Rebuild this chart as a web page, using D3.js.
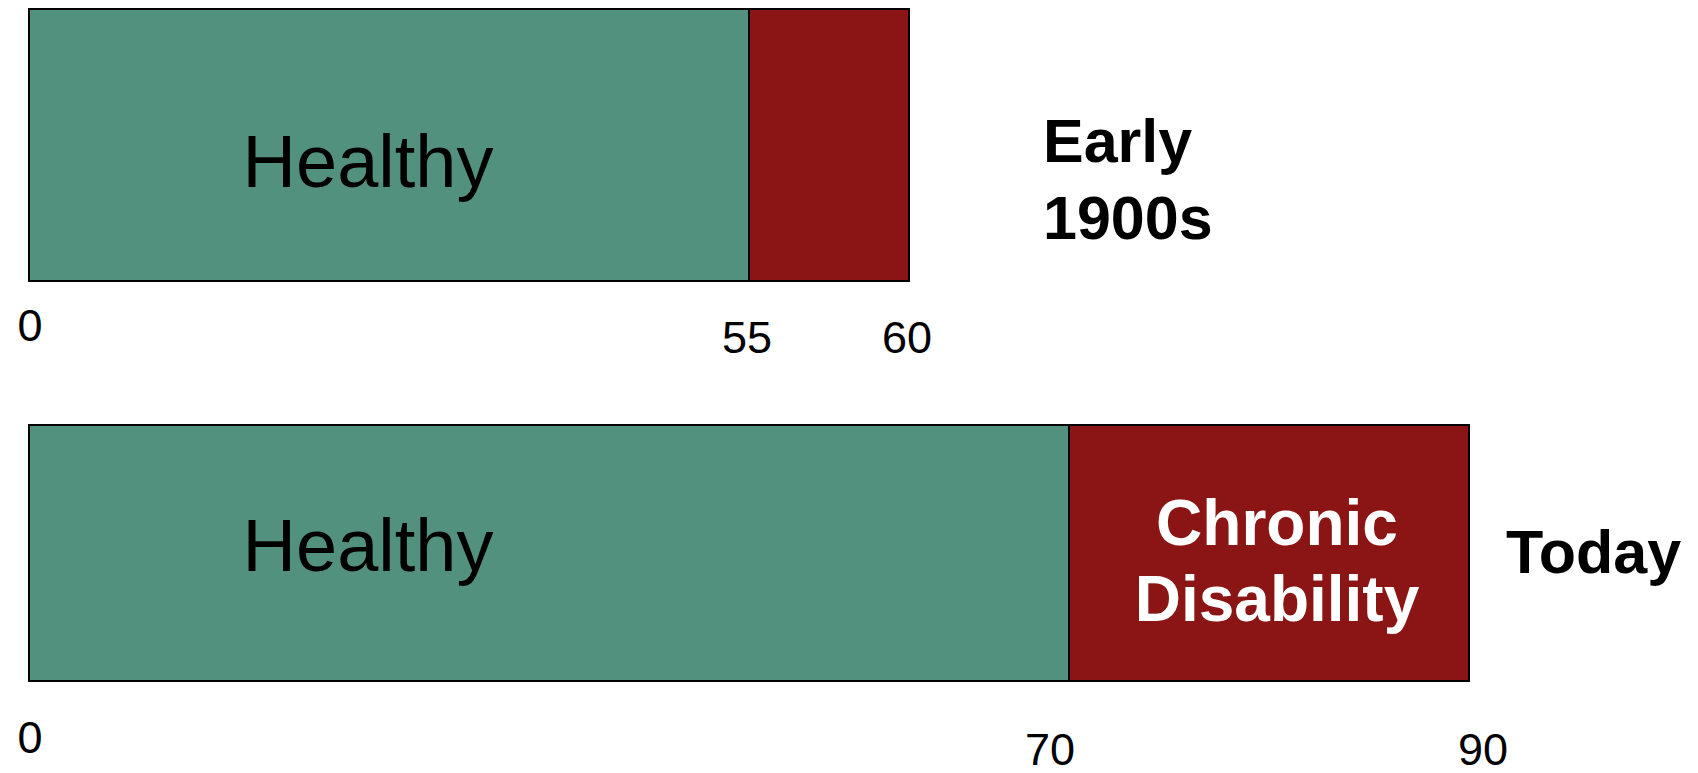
<!DOCTYPE html>
<html>
<head>
<meta charset="utf-8">
<title>Healthy years vs. chronic disability</title>
<script src="https://cdn.jsdelivr.net/npm/d3@7/dist/d3.min.js"></script>
<style>
  html, body { margin: 0; padding: 0; background: #ffffff; }
  svg { display: block; }
  text { font-family: "Liberation Sans", Arial, Helvetica, sans-serif; }
</style>
</head>
<body>
<svg id="chart" width="1698" height="773"></svg>
<script>
// ---- data ----------------------------------------------------------
const rowNames      = ["Early 1900s", "Today"];
const healthyYears  = [55, 70];          // end of the healthy span (years)
const lifeYears     = [60, 90];          // end of life span (years)
const tickValues    = [[0, 55, 60], [0, 70, 90]];
const tickLabels    = [["0", "55", "60"], ["0", "70", "90"]];
const healthyLabel  = "Healthy";
const disabilityLabel = [[], ["Chronic", "Disability"]];
const rowLabelLines = [["Early", "1900s"], ["Today"]];

// ---- layout & style ------------------------------------------------
// The bars are schematic: each row has its own piecewise axis whose
// break points sit at the pixel stops below.
const layout = {
  stops:      [[29, 749, 909], [29, 1069, 1469]],
  barTop:     [9, 425],
  barHeight:  [272, 256],
  tickBase:   [353, 765],
  tickNudge:  [[{dx: 1, dy: -12}, {dx: -2, dy: 0}, {dx: -2, dy: 0}],
               [{dx: 1, dy: -12}, {dx: -19, dy: 0}, {dx: 14, dy: 0}]],
  healthyX:   368,
  healthyBase:[187, 571],
  disabX:     1277,
  disabBase:  [545, 621],
  rowLabelX:  [1043, 1506],
  rowLabelBase: [[162, 239], [573]]
};
const colors = { healthy: "#52917d", disability: "#8b1514", stroke: "#000000" };

const svg = d3.select("#chart");

rowNames.forEach((name, i) => {
  const x = d3.scaleLinear()
    .domain([0, healthyYears[i], lifeYears[i]])
    .range(layout.stops[i]);

  const g = svg.append("g").attr("class", "row").attr("data-row", name);
  const y0 = layout.barTop[i], h = layout.barHeight[i];

  const segments = [
    { from: 0, to: healthyYears[i], fill: colors.healthy },
    { from: healthyYears[i], to: lifeYears[i], fill: colors.disability }
  ];

  g.selectAll("rect.seg")
    .data(segments)
    .join("rect")
    .attr("class", "seg")
    .attr("x", d => x(d.from))
    .attr("y", y0)
    .attr("width", d => x(d.to) - x(d.from))
    .attr("height", h)
    .attr("fill", d => d.fill)
    .attr("stroke", colors.stroke)
    .attr("stroke-width", 2);

  // axis values under the bar
  g.selectAll("text.tick")
    .data(tickValues[i])
    .join("text")
    .attr("class", "tick")
    .attr("x", (d, k) => x(d) + layout.tickNudge[i][k].dx)
    .attr("y", (d, k) => layout.tickBase[i] + layout.tickNudge[i][k].dy)
    .attr("text-anchor", "middle")
    .attr("font-size", 45)
    .attr("fill", "#000")
    .text((d, k) => tickLabels[i][k]);

  // segment labels
  g.append("text")
    .attr("x", layout.healthyX)
    .attr("y", layout.healthyBase[i])
    .attr("text-anchor", "middle")
    .attr("font-size", 74)
    .attr("fill", "#000")
    .text(healthyLabel);

  g.selectAll("text.disab")
    .data(disabilityLabel[i])
    .join("text")
    .attr("class", "disab")
    .attr("x", layout.disabX)
    .attr("y", (d, k) => layout.disabBase[k])
    .attr("text-anchor", "middle")
    .attr("font-size", 64)
    .attr("font-weight", "bold")
    .attr("fill", "#ffffff")
    .text(d => d);

  // row label to the right
  g.selectAll("text.rowlabel")
    .data(rowLabelLines[i])
    .join("text")
    .attr("class", "rowlabel")
    .attr("x", layout.rowLabelX[i])
    .attr("y", (d, k) => layout.rowLabelBase[i][k])
    .attr("font-size", 61)
    .attr("font-weight", "bold")
    .attr("fill", "#000")
    .text(d => d);
});
</script>
</body>
</html>
